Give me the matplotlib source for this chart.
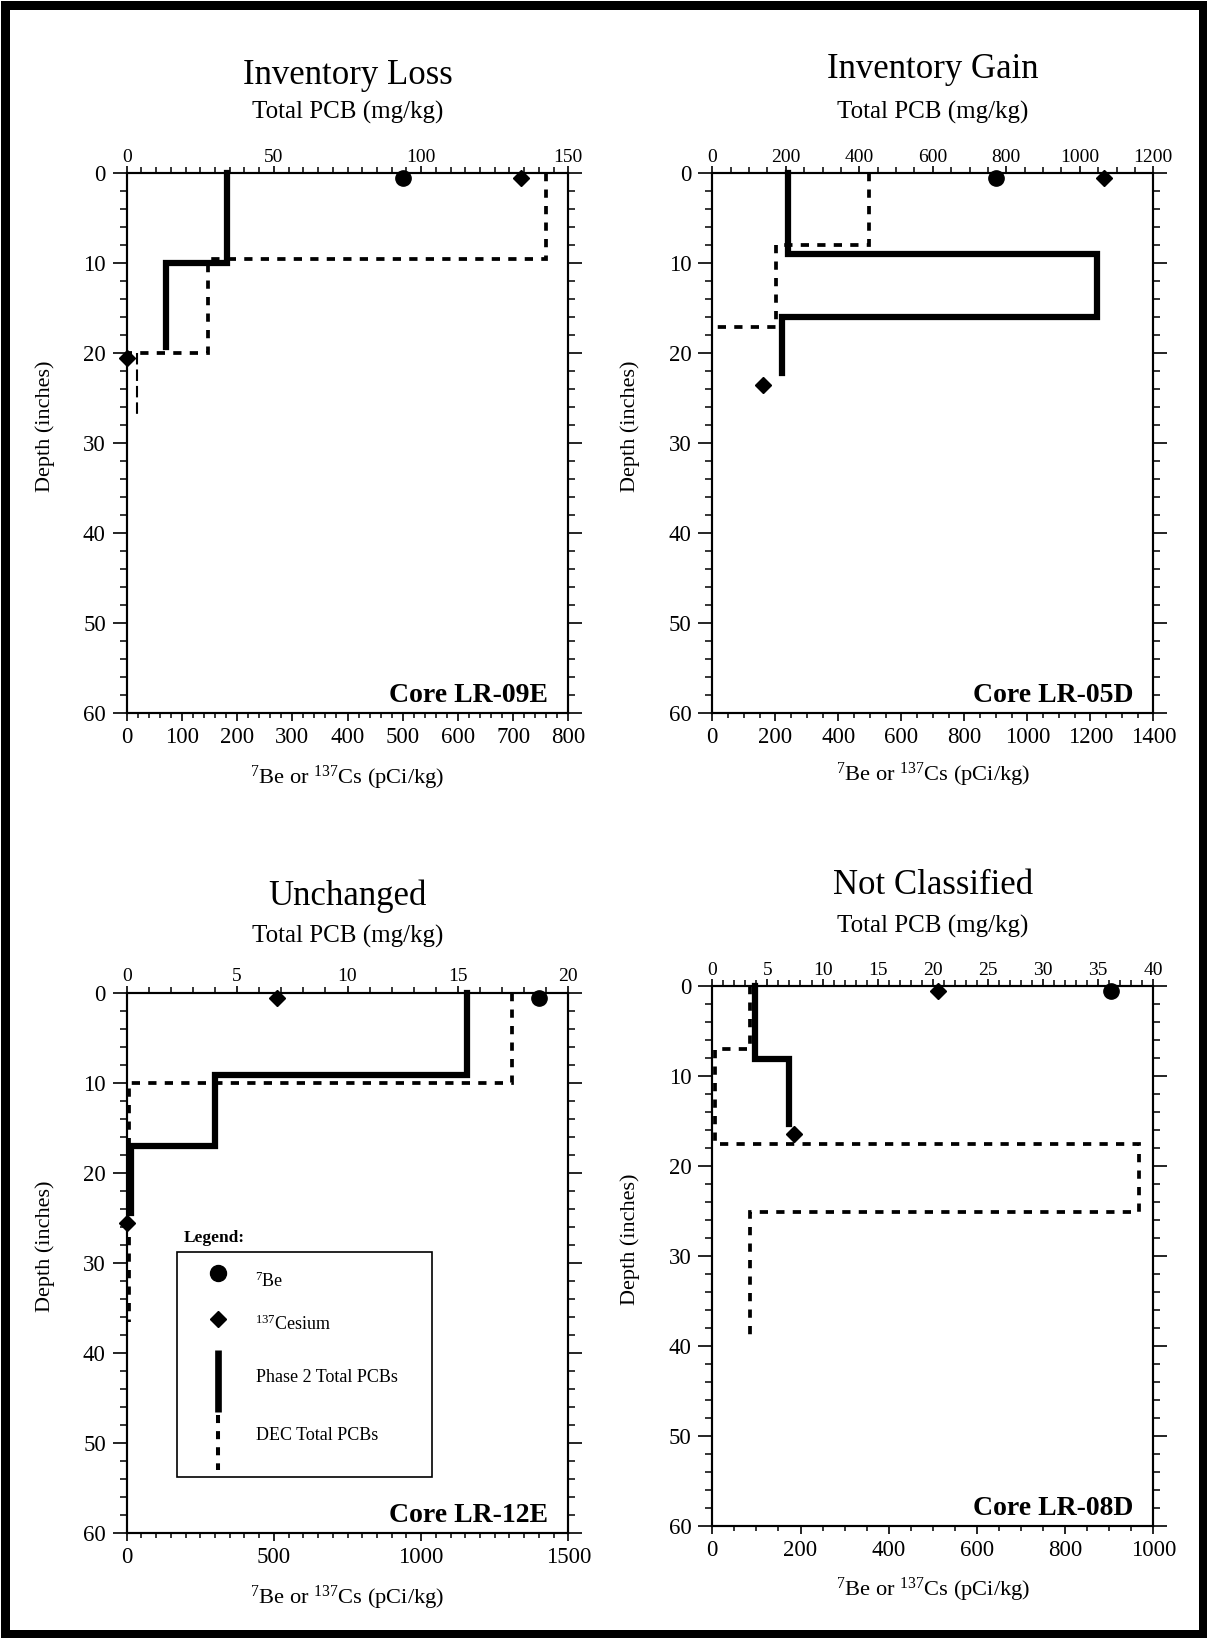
import matplotlib
matplotlib.use("Agg")
import matplotlib.pyplot as plt
from matplotlib.lines import Line2D
from matplotlib.patches import Rectangle
from matplotlib.ticker import MultipleLocator

plt.rcParams["font.family"] = ["Liberation Serif", "DejaVu Serif"]
plt.rcParams["mathtext.fontset"] = "custom"
plt.rcParams["mathtext.rm"] = "Liberation Serif"
plt.rcParams["mathtext.it"] = "Liberation Serif:italic"
plt.rcParams["mathtext.bf"] = "Liberation Serif:bold"

W, H, DPI = 1207, 1638, 100

# ---------------------------------------------------------------- data
titles = ["Inventory Loss", "Inventory Gain", "Unchanged", "Not Classified"]
cores = ["Core LR-09E", "Core LR-05D", "Core LR-12E", "Core LR-08D"]

# bottom axis: 7Be / 137Cs (pCi/kg); top axis: total PCB (mg/kg)
nuclide_xlim = [800, 1400, 1500, 1000]
nuclide_major = [100, 200, 500, 200]
nuclide_minor = [20, 50, 50, 50]
pcb_xlim = [150, 1200, 20, 40]
pcb_major = [50, 200, 5, 5]
pcb_minor = [5, 50, 1, 1]

# Core LR-09E
lr09e_be7 = [500]
lr09e_be7_depth = [0.6]
lr09e_cs137 = [715, 0]
lr09e_cs137_depth = [0.6, 20.5]
lr09e_phase2 = [34.0, 13.2]
lr09e_phase2_depth = [0, 10.0, 19.3]
lr09e_dec = [142.3, 27.6, 0]
lr09e_dec_depth = [0, 9.6, 20.0, 20.0]
lr09e_dec_tail = [3.4]
lr09e_dec_tail_depth = [20.0, 27.0]

# Core LR-05D
lr05d_be7 = [900]
lr05d_be7_depth = [0.6]
lr05d_cs137 = [1243, 162]
lr05d_cs137_depth = [0.6, 23.6]
lr05d_phase2 = [207, 1046, 189]
lr05d_phase2_depth = [0, 9.0, 16.0, 22.2]
lr05d_dec = [426, 173, 0]
lr05d_dec_depth = [0, 8.0, 17.1, 17.1]

# Core LR-12E
lr12e_be7 = [1400]
lr12e_be7_depth = [0.55]
lr12e_cs137 = [510, 0]
lr12e_cs137_depth = [0.55, 25.6]
lr12e_phase2 = [15.43, 4.0, 0.2]
lr12e_phase2_depth = [0, 9.1, 17.0, 24.5]
lr12e_dec = [17.43, 0.1]
lr12e_dec_depth = [0, 10.0, 36.6]

# Core LR-08D
lr08d_be7 = [905]
lr08d_be7_depth = [0.55]
lr08d_cs137 = [512, 185]
lr08d_cs137_depth = [0.55, 16.4]
lr08d_phase2 = [3.9, 7.0]
lr08d_phase2_depth = [0, 8.1, 15.3]
lr08d_dec = [3.4, 0.2, 38.7, 3.4]
lr08d_dec_depth = [0, 7.0, 17.6, 25.1, 39.6]

panels = [
    dict(be=(lr09e_be7, lr09e_be7_depth), cs=(lr09e_cs137, lr09e_cs137_depth),
         p2=(lr09e_phase2, lr09e_phase2_depth), dec=(lr09e_dec, lr09e_dec_depth),
         tail=(lr09e_dec_tail, lr09e_dec_tail_depth)),
    dict(be=(lr05d_be7, lr05d_be7_depth), cs=(lr05d_cs137, lr05d_cs137_depth),
         p2=(lr05d_phase2, lr05d_phase2_depth), dec=(lr05d_dec, lr05d_dec_depth),
         tail=None),
    dict(be=(lr12e_be7, lr12e_be7_depth), cs=(lr12e_cs137, lr12e_cs137_depth),
         p2=(lr12e_phase2, lr12e_phase2_depth), dec=(lr12e_dec, lr12e_dec_depth),
         tail=None),
    dict(be=(lr08d_be7, lr08d_be7_depth), cs=(lr08d_cs137, lr08d_cs137_depth),
         p2=(lr08d_phase2, lr08d_phase2_depth), dec=(lr08d_dec, lr08d_dec_depth),
         tail=None),
]

# faint minor ticks on the "Unchanged" panel
faint_depth_ticks = [2, 6, 14, 22, 28, 36, 44, 52]
faint_nuclide_ticks = [200]
faint_pcb_ticks = [1]

# ---------------------------------------------------------------- layout (pixels)
axes_px = [  # left, top, right, bottom
    (126.7, 173.0, 568.3, 713.0),
    (712.3, 173.0, 1153.3, 713.0),
    (126.7, 992.7, 568.3, 1533.0),
    (712.3, 986.0, 1153.3, 1526.0),
]
title_y = [76, 70, 896, 886]
sub_y = [112, 112, 936, 926]
xlabel_y = [778, 775, 1598, 1590]


def fx(px):
    return px / W


def fy(py):
    return 1 - py / H


def step_path(values, depths):
    xs, ys = [], []
    for v, d0, d1 in zip(values, depths[:-1], depths[1:]):
        xs += [v, v]
        ys += [d0, d1]
    return xs, ys


def fade_minor(axis, positions, color="#b8b8b8"):
    locs = axis.get_minorticklocs()
    ticks = axis.get_minor_ticks(len(locs))
    for loc, tk in zip(locs, ticks):
        if any(abs(loc - p) < 1e-6 for p in positions):
            tk.tick1line.set_color(color)
            tk.tick2line.set_color(color)


fig = plt.figure(figsize=(W / DPI, H / DPI), dpi=DPI)

SOLID = dict(color="black", lw=4.5, solid_capstyle="projecting",
             solid_joinstyle="miter", clip_on=False, zorder=5)
DASHED = dict(color="black", lw=2.7, linestyle=(0, (2.2, 2.2)),
              dash_capstyle="butt", dash_joinstyle="miter", clip_on=False, zorder=5)

for i, p in enumerate(panels):
    l, t, r, b = axes_px[i]
    ax = fig.add_axes([fx(l), fy(b), (r - l) / W, (b - t) / H])
    ax.set_xlim(0, nuclide_xlim[i])
    ax.set_ylim(60, 0)
    ax.xaxis.set_major_locator(MultipleLocator(nuclide_major[i]))
    ax.xaxis.set_minor_locator(MultipleLocator(nuclide_minor[i]))
    ax.yaxis.set_major_locator(MultipleLocator(10))
    ax.yaxis.set_minor_locator(MultipleLocator(2))
    ax.tick_params(axis="y", which="both", left=True, right=True,
                   labelright=False, direction="out", labelsize=16.5)
    ax.tick_params(axis="y", which="major", length=10, width=1.2, pad=5)
    ax.tick_params(axis="y", which="minor", length=5, width=1.1)
    ax.tick_params(axis="x", which="both", direction="out", labelsize=16.5)
    ax.tick_params(axis="x", which="major", length=6, width=1.2, pad=4)
    ax.tick_params(axis="x", which="minor", length=3.5, width=1.1)
    for s in ax.spines.values():
        s.set_linewidth(1.5)

    ax2 = ax.twiny()
    ax2.set_xlim(0, pcb_xlim[i])
    ax2.xaxis.set_major_locator(MultipleLocator(pcb_major[i]))
    ax2.xaxis.set_minor_locator(MultipleLocator(pcb_minor[i]))
    ax2.tick_params(axis="x", which="both", direction="out", labelsize=14, pad=0.3)
    ax2.tick_params(axis="x", which="major", length=5, width=1.2)
    ax2.tick_params(axis="x", which="minor", length=4.5, width=1.1)
    for s in ax2.spines.values():
        s.set_linewidth(1.5)

    if i == 2:
        fade_minor(ax.yaxis, faint_depth_ticks)
        fade_minor(ax.xaxis, faint_nuclide_ticks)
        fade_minor(ax2.xaxis, faint_pcb_ticks)

    # PCB profiles on the top scale
    xs, ys = step_path(*p["p2"])
    ax2.plot(xs, ys, **SOLID)
    xs, ys = step_path(*p["dec"])
    ax2.plot(xs, ys, **DASHED)
    if p["tail"] is not None:
        xs, ys = step_path(*p["tail"])
        ax2.plot(xs, ys, color="black", lw=1.5, linestyle=(0, (5.5, 2.4)),
                 dash_capstyle="butt", clip_on=False, zorder=5)

    # radionuclides on the bottom scale
    be_x, be_d = p["be"]
    cs_x, cs_d = p["cs"]
    ax.plot(be_x, be_d, "o", color="black", ms=11, clip_on=False, zorder=6)
    ax.plot(cs_x, cs_d, "D", color="black", ms=8.3, clip_on=False, zorder=6)

    cx = (l + r) / 2
    fig.text(fx(cx), fy(title_y[i]), titles[i], ha="center", va="center", fontsize=25)
    fig.text(fx(cx), fy(sub_y[i]), "Total PCB (mg/kg)", ha="center", va="center",
             fontsize=18)
    fig.text(fx(cx), fy(xlabel_y[i]),
             r"$^{\mathrm{7}}$Be or $^{\mathrm{137}}$Cs (pCi/kg)",
             ha="center", va="center", fontsize=16.2)
    fig.text(fx(l - 82), fy((t + b) / 2 - 17), "Depth (inches)", rotation=90,
             ha="center", va="center", fontsize=16)
    fig.text(fx(r - 20), fy(b - 11), cores[i], ha="right", va="baseline",
             fontsize=20, fontweight="bold")

# ---------------------------------------------------------------- legend block
fig.add_artist(Rectangle((fx(177), fy(1477)), (432 - 177) / W, (1477 - 1252) / H,
                         transform=fig.transFigure, fill=False, lw=1.2,
                         edgecolor="black", zorder=7))
fig.text(fx(184), fy(1238), "Legend:", ha="left", va="center", fontsize=12.5,
         fontweight="bold")
fig.add_artist(Line2D([fx(218)], [fy(1273)], marker="o", color="black", ms=11.5,
                      transform=fig.transFigure))
fig.add_artist(Line2D([fx(217.5)], [fy(1319)], marker="D", color="black", ms=8.3,
                      transform=fig.transFigure))
fig.add_artist(Line2D([fx(218), fx(218)], [fy(1350), fy(1412)], color="black", lw=4.8,
                      solid_capstyle="butt", transform=fig.transFigure))
fig.add_artist(Line2D([fx(218), fx(218)], [fy(1415), fy(1470)], color="black", lw=2.9,
                      linestyle=(0, (2.0, 2.0)), dash_capstyle="butt",
                      transform=fig.transFigure))
fig.text(fx(255), fy(1281), r"$^{\mathrm{7}}$Be", ha="left", va="center", fontsize=13)
fig.text(fx(255), fy(1324), r"$^{\mathrm{137}}$Cesium", ha="left", va="center",
         fontsize=13)
fig.text(fx(256), fy(1378), "Phase 2 Total PCBs", ha="left", va="center", fontsize=13)
fig.text(fx(256), fy(1436), "DEC Total PCBs", ha="left", va="center", fontsize=13)

# page frame
fig.add_artist(Rectangle((fx(4.5), fy(H - 4.5)), 1 - 9 / W, 1 - 9 / H,
                         transform=fig.transFigure, fill=False, lw=9 * 72 / DPI,
                         edgecolor="black"))

fig.savefig("out.png", dpi=DPI)
